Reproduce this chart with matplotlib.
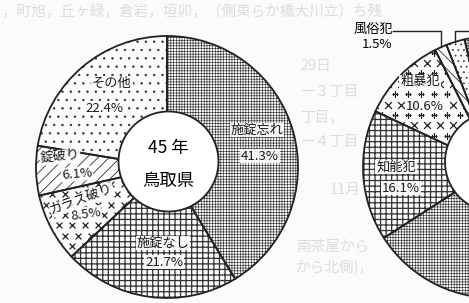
import numpy as np
import matplotlib.pyplot as plt
from matplotlib.patches import Circle

plt.rcParams['font.family'] = ['Noto Sans CJK JP', 'DejaVu Sans']
plt.rcParams['hatch.linewidth'] = 0.5

W, H = 469, 303

# left ring (鳥取県, 45年), clockwise from 12 o'clock
left_labels = ['施錠忘れ', '施錠なし', 'ガラス破り', '錠破り', 'その他']
left_values = [41.3, 21.7, 8.5, 6.1, 22.4]
left_pct = ['41.3%', '21.7%', '8.5%', '6.1%', '22.4%']

# right ring (cut off by the page edge), counter-clockwise
right_labels = ['凶悪犯', '風俗犯', '粗暴犯', '知能犯', '窃盗犯']
right_values = [2.3, 1.5, 10.6, 16.1, 69.5]
right_pct = ['2.3%', '1.5%', '10.6%', '16.1%', '69.5%']

center_text = ['45 年', '鳥取県']

# faint show-through from the back of the page
ghost_text = [
    ('，町旭，丘ヶ緑，倉岩，垣卯，（側東らか橋大川立）ち残', 2, 12),
    ('29日', 300, 66), ('ー３丁目', 300, 92), ('丁目，', 300, 117),
    ('ー４丁目', 300, 142), ('11月', 330, 190), ('南茶屋から', 296, 247),
    ('から北側)，', 296, 268),
]

INK = '#222222'


def Y(y):
    # picture rows -> data y
    return H - y


def ring(ax, values, center, start, clockwise, hatches, hatch_lw):
    kw = dict(center=center, radius=131, startangle=start,
              counterclock=not clockwise, frame=True)
    wedges, _ = ax.pie(values, wedgeprops=dict(facecolor='none',
                       edgecolor='#333333', linewidth=0), **kw)
    for w, h, lw in zip(wedges, hatches, hatch_lw):
        if h:
            w.set_hatch(h)
            if hasattr(w, 'set_hatch_linewidth'):
                w.set_hatch_linewidth(lw)
    outline, _ = ax.pie(values, wedgeprops=dict(facecolor='none',
                        edgecolor=INK, linewidth=1.3), **kw)
    return outline


def marks(ax, wedge, step, markers, size):
    ext = wedge.get_path().get_extents()
    xs = np.arange(ext.x0, ext.x1 + step, step)
    ys = np.arange(ext.y0, ext.y1 + step, step * 0.8)
    for i, y in enumerate(ys):
        xx = xs + (step / 2 if i % 2 else 0)
        sc = ax.scatter(xx, np.full_like(xx, y), marker=markers[i % len(markers)],
                        s=size, c=INK, linewidths=0.9, zorder=2)
        sc.set_clip_path(wedge)


def label(ax, s, x, y, size=9.5, rot=0):
    ax.text(x, Y(y), s, fontsize=size, ha='center', va='center', rotation=rot,
            color='#1a1a1a', zorder=6,
            bbox=dict(facecolor='white', edgecolor='none', pad=0.5, alpha=0.9))


fig = plt.figure(figsize=(W / 100, H / 100), dpi=100, facecolor='#fbfbfa')
ax = fig.add_axes([0, 0, 1, 1])
ax.set_facecolor('#fbfbfa')

for s, x, y in ghost_text:
    ax.text(x, Y(y), s, fontsize=10.5, color='#dcdcdc', ha='left', va='center', zorder=0)

# left ring
lw_ = ring(ax, left_values, (167, Y(167)), 90, True,
           ['++++++', '+++', None, '///', '..'], [0.45, 0.9, 0, 0.6, 0.5])
marks(ax, lw_[2], 13, ['x'], 18)
ax.add_patch(Circle((168.5, Y(161.5)), 50, facecolor='white', edgecolor=INK,
                    linewidth=1.3, zorder=4))

# right ring
rw = ring(ax, right_values, (494, Y(167)), 103, False,
          ['...', '\\\\\\', None, '+++', '++++++'], [0.5, 0.6, 0, 0.9, 0.45])
marks(ax, rw[2], 13, ['x', '+'], 24)
ax.add_patch(Circle((495, Y(162)), 50, facecolor='white', edgecolor=INK,
                    linewidth=1.3, zorder=4))

# texts
label(ax, left_labels[0], 257, 130)
label(ax, left_pct[0], 260, 156)
label(ax, left_labels[1], 163, 243)
label(ax, left_pct[1], 164, 262)
label(ax, left_labels[2], 82, 200, rot=20)
label(ax, left_pct[2], 86, 214, rot=8)
label(ax, left_labels[3], 60, 157, rot=5)
label(ax, left_pct[3], 77, 174, rot=5)
label(ax, left_labels[4], 112, 83)
label(ax, left_pct[4], 104, 108)

ax.text(168, Y(148), center_text[0], fontsize=12.5, ha='center', va='center', zorder=6)
ax.text(168, Y(181), center_text[1], fontsize=12.5, ha='center', va='center', zorder=6)

label(ax, right_labels[2], 420, 82)
label(ax, right_pct[2], 425, 106)
label(ax, right_labels[3], 396, 167)
label(ax, right_pct[3], 401, 188)
ax.text(373, Y(29), right_labels[1], fontsize=9.5, ha='center', va='center', zorder=6)
ax.text(377, Y(44), right_pct[1], fontsize=9.5, ha='center', va='center', zorder=6)

# leader lines from the two thin slices
for w, x_end in [(rw[1], 393), (rw[0], W + 10)]:
    a = np.deg2rad((w.theta1 + w.theta2) / 2)
    px = w.center[0] + w.r * np.cos(a)
    py = w.center[1] + w.r * np.sin(a)
    ax.plot([x_end, px, px], [Y(31), Y(31), py], color=INK, lw=1.0, zorder=5)

ax.set_xlim(0, W)
ax.set_ylim(0, H)
ax.axis('off')
fig.savefig('out.png', dpi=100, facecolor=fig.get_facecolor())
